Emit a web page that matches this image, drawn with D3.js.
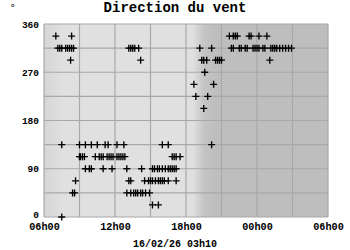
<!DOCTYPE html>
<html><head><meta charset="utf-8">
<script src="https://cdn.jsdelivr.net/npm/d3@7"></script>
<style>
html,body{margin:0;padding:0;background:#fff;}
svg{display:block;}
text{font-family:"Liberation Mono","DejaVu Sans Mono",monospace;font-weight:bold;fill:#000;}
</style></head>
<body>
<script>
// ---- data ----
const chartTitle = "Direction du vent";
const unitLabel = "°";
const footerLabel = "16/02/26 03h10";
const startDay = "2026-02-15";
const yTickValues = [0, 90, 180, 270, 360];
const yGridValues = [0, 45, 90, 135, 180, 225, 270, 315, 360];
const xTickLabels = ["06h00", "12h00", "18h00", "00h00", "06h00"];
const nightStart = "18:35";
const nightFull = "20:30";

// observation times (HH:MM, times before 06:00 belong to the next day)
const obsTimes = [
  // 337.5
  "07:00","08:20","21:40","22:00","22:10","22:20","23:20","23:30","00:10","00:50",
  // 315
  "07:10","07:20","07:30","07:50","08:00","08:10","08:20","08:30",
  "13:10","13:20","13:30","13:40","14:00",
  "19:10","20:10",
  "21:50","22:00","22:30","22:40","23:00","23:10","23:40","23:50","00:00","00:10",
  "00:30","00:40","01:10","01:20","01:30","01:40","01:55","02:10","02:25","02:40","02:55",
  // 292.5
  "08:15","14:10","19:20","19:30","19:45","20:30","20:40","20:50","21:00","01:05",
  // 270
  "19:35",
  // 247.5
  "18:40","20:20",
  // 225
  "18:50","19:50",
  // 202.5
  "19:30",
  // 135
  "07:30","09:00","09:30","10:00","10:30","11:10","11:25","12:10","12:45","16:00","16:30","20:10",
  // 112.5
  "09:00","09:05","09:15","09:25",
  "10:20","10:40","10:50","11:00","11:20","11:30","11:40","11:50","12:10","12:20","12:30","12:40","12:50",
  "16:50","17:00","17:10","17:30",
  // 90
  "09:30","09:50","10:00","11:00","11:45","13:00","14:15",
  "15:10","15:20","15:35","15:45","16:00","16:15","16:30","16:40","16:50","17:00","17:10",
  // 67.5
  "08:40","13:10","13:20",
  "14:30","14:50","15:00","15:10","15:25","15:40","15:50","16:00","16:10","16:30","17:10",
  // 45
  "08:25","08:35",
  "13:00","13:20","13:35","13:45","13:55","14:10","14:20","14:35","14:55",
  // 22.5
  "15:10","15:40",
  // 0
  "07:30"
];
const obsDirections = [
  337.5,337.5,337.5,337.5,337.5,337.5,337.5,337.5,337.5,337.5,
  315,315,315,315,315,315,315,315,
  315,315,315,315,315,
  315,315,
  315,315,315,315,315,315,315,315,315,315,
  315,315,315,315,315,315,315,315,315,315,315,
  292.5,292.5,292.5,292.5,292.5,292.5,292.5,292.5,292.5,292.5,
  270,
  247.5,247.5,
  225,225,
  202.5,
  135,135,135,135,135,135,135,135,135,135,135,135,
  112.5,112.5,112.5,112.5,
  112.5,112.5,112.5,112.5,112.5,112.5,112.5,112.5,112.5,112.5,112.5,112.5,112.5,
  112.5,112.5,112.5,112.5,
  90,90,90,90,90,90,90,
  90,90,90,90,90,90,90,90,90,90,90,
  67.5,67.5,67.5,
  67.5,67.5,67.5,67.5,67.5,67.5,67.5,67.5,67.5,67.5,67.5,
  45,45,
  45,45,45,45,45,45,45,45,45,
  22.5,22.5,
  0
];

// ---- helpers ----
const base = new Date(startDay + "T00:00:00");
function toDate(hhmm){
  const [h, m] = hhmm.split(":").map(Number);
  const d = new Date(base);
  d.setHours(h, m, 0, 0);
  if (h < 6) d.setDate(d.getDate() + 1);
  return d;
}
const domainStart = toDate("06:00");
const domainEnd = new Date(domainStart.getTime() + 24*3600*1000);

const W = 350, H = 250;
const L = 44, R = 328, T = 24, B = 217;

const x = d3.scaleTime().domain([domainStart, domainEnd]).range([L, R]);
const y = d3.scaleLinear().domain([0, 360]).range([B, T]);

const svg = d3.select("body").append("svg").attr("width", W).attr("height", H);

// background with night gradient
const defs = svg.append("defs");
const grad = defs.append("linearGradient").attr("id", "bg")
  .attr("gradientUnits", "userSpaceOnUse")
  .attr("x1", L).attr("x2", R).attr("y1", 0).attr("y2", 0);
const frac = v => (v - L) / (R - L);
const xs = x(toDate(nightStart)), xe = x(toDate(nightFull));
grad.append("stop").attr("offset", 0).attr("stop-color", "#d6d6d6");
grad.append("stop").attr("offset", frac(L + 20)).attr("stop-color", "#e0e0e0");
grad.append("stop").attr("offset", frac(xs)).attr("stop-color", "#e0e0e0");
grad.append("stop").attr("offset", frac((xs + xe) / 2)).attr("stop-color", "#c4c4c4");
grad.append("stop").attr("offset", frac(xe)).attr("stop-color", "#bebebe");
grad.append("stop").attr("offset", 1).attr("stop-color", "#bebebe");

svg.append("rect").attr("x", L).attr("y", T).attr("width", R - L).attr("height", B - T)
  .attr("fill", "url(#bg)");

// grid
const xGrid = d3.timeHour.every(3).range(domainStart, new Date(domainEnd.getTime() + 1));
svg.append("g").selectAll("line").data(xGrid).join("line")
  .attr("x1", d => x(d)).attr("x2", d => x(d)).attr("y1", T).attr("y2", B)
  .attr("stroke", "#a8a8a8").attr("stroke-width", 1.2);
svg.append("g").selectAll("line").data(yGridValues).join("line")
  .attr("x1", L).attr("x2", R).attr("y1", d => y(d)).attr("y2", d => y(d))
  .attr("stroke", "#a8a8a8").attr("stroke-width", 1.2);

// axes
const yAxis = d3.axisLeft(y).tickValues(yTickValues).tickSize(0).tickPadding(5).tickFormat(d3.format("d"));
const gy = svg.append("g").attr("transform", `translate(${L},0)`).call(yAxis);
gy.select(".domain").remove();
gy.selectAll("text").style("font-size", "9.5px").style("font-family", null)
  .attr("dy", (d) => d === 0 ? "0.1em" : "0.32em");

const xTicks = d3.timeHour.every(6).range(domainStart, new Date(domainEnd.getTime() + 1));
const xAxis = d3.axisBottom(x).tickValues(xTicks).tickSize(0).tickPadding(6)
  .tickFormat((d, i) => xTickLabels[i]);
const gx = svg.append("g").attr("transform", `translate(0,${B})`).call(xAxis);
gx.select(".domain").remove();
gx.selectAll("text").style("font-size", "10.2px").style("font-family", null);

// points
const pts = obsTimes.map((t, i) => ({t: toDate(t), v: obsDirections[i]}));
svg.append("g").selectAll("path").data(pts).join("path")
  .attr("transform", d => `translate(${x(d.t)},${y(d.v)})`)
  .attr("d", "M-3.5,0H3.5M0,-3.5V3.5")
  .attr("stroke", "#000").attr("stroke-width", 1.35).attr("fill", "none");

// texts
svg.append("text").attr("x", 175).attr("y", 12).attr("text-anchor", "middle")
  .style("font-size", "14px").text(chartTitle);
svg.append("text").attr("x", 10).attr("y", 10).style("font-size", "9px").text(unitLabel);
svg.append("text").attr("x", 175).attr("y", 246.5).attr("text-anchor", "middle")
  .style("font-size", "10px").text(footerLabel);
</script>
</body></html>
